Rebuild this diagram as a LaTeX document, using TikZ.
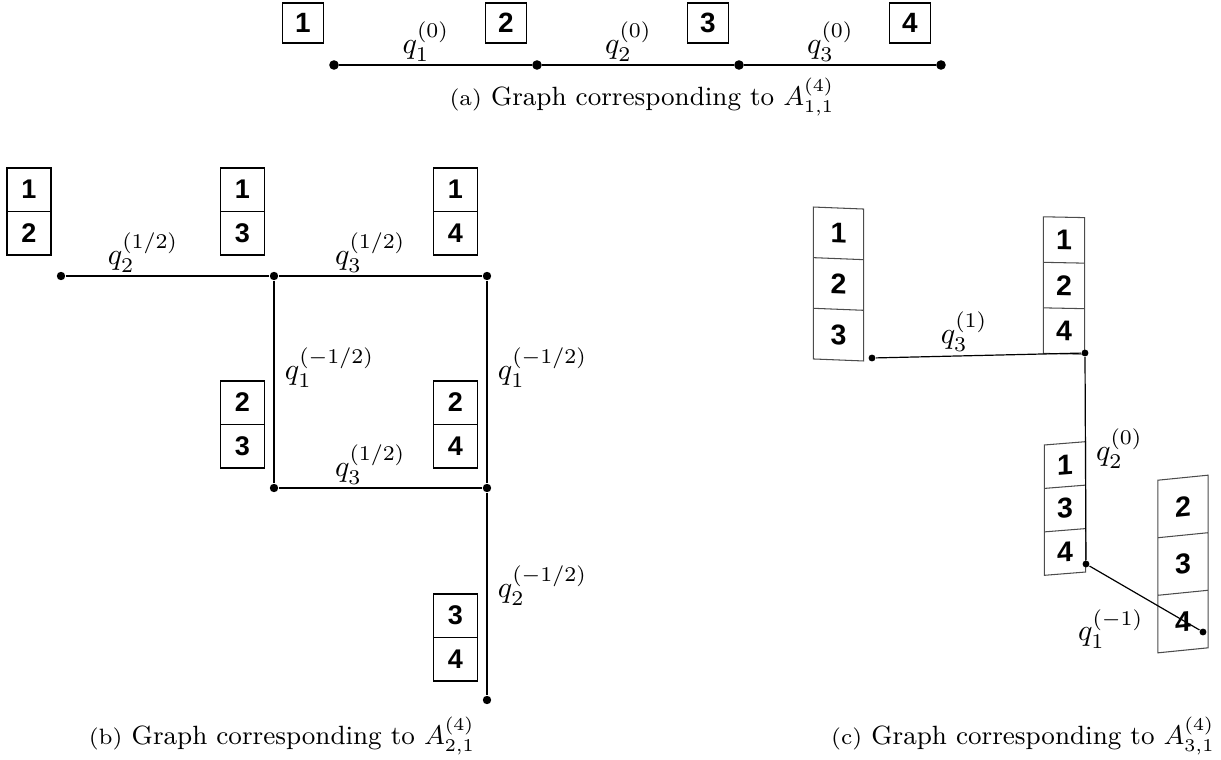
\documentclass[tikz,border=0pt]{standalone}
\usepackage{fontspec}
\newfontfamily\digitfont{Liberation Sans}
\usetikzlibrary{shapes.multipart}

\newcommand{\dg}[1]{\vphantom{0}#1}
\newcommand{\sublabel}[1]{{\fontsize{7.4}{9}\selectfont #1}}

\begin{document}
\begin{tikzpicture}[
    x=0.3333pt, y=-0.3333pt,
    dot/.style={circle, fill, inner sep=0pt, minimum size=3.2pt},
    midot/.style={circle, fill, inner sep=0pt, minimum size=2.8pt},
    smalldot/.style={circle, fill, inner sep=0pt, minimum size=2.3pt},
    link/.style={semithick},
    thinlink/.style={thin},
    numbox/.style={draw, semithick, inner xsep=0pt, inner ysep=3.4pt,
                   minimum width=13.7pt,
                   font=\digitfont\bfseries\fontsize{9.3}{11}\selectfont},
    tower/.style={rectangle split, rectangle split parts=#1, draw, semithick,
                  inner xsep=0pt, inner ysep=3.8pt, minimum width=14.7pt,
                  font=\digitfont\bfseries\fontsize{9}{11}\selectfont},
    slimtower/.style={rectangle split, rectangle split parts=3, draw=black!70,
                  line width=0.35pt, inner xsep=0pt,
                  font=\digitfont\bfseries\fontsize{9.5}{11}\selectfont},
    caption/.style={font=\fontsize{8.8}{10.5}\selectfont}
  ]
    \useasboundingbox (0,0) rectangle (1221,760);

    % (a) path graph
    \node[numbox] (n1) at (303,23) {\dg1};
    \node[numbox] (n2) at (506,23) {\dg2};
    \node[numbox] (n3) at (708,23) {\dg3};
    \node[numbox] (n4) at (910,23) {\dg4};
    \node[dot] (a1) at (334,65) {};
    \node[dot] (a2) at (537,65) {};
    \node[dot] (a3) at (739,65) {};
    \node[dot] (a4) at (941,65) {};
    \draw[link] (a1) -- node[above=-2.3pt, pos=0.45] {$q_1^{(0)}$} (a2);
    \draw[link] (a2) -- node[above=-2.3pt, pos=0.45] {$q_2^{(0)}$} (a3);
    \draw[link] (a3) -- node[above=-2.3pt, pos=0.45] {$q_3^{(0)}$} (a4);
    \node[caption] (capa) at (642,97)
      {\sublabel{(a)} Graph corresponding to $A^{(4)}_{1,1}$};

    % (b) square with two tails
    \node[tower=2] (t12) at (29,211.5)  {\dg1\nodepart{two}\dg2};
    \node[tower=2] (t13) at (242.5,211.5) {\dg1\nodepart{two}\dg3};
    \node[tower=2] (t14) at (455.5,211.5) {\dg1\nodepart{two}\dg4};
    \node[tower=2] (t23) at (242.5,424.5) {\dg2\nodepart{two}\dg3};
    \node[tower=2] (t24) at (455.5,424.5) {\dg2\nodepart{two}\dg4};
    \node[tower=2] (t34) at (455.5,637.5) {\dg3\nodepart{two}\dg4};
    \node[midot] (b1) at (61,276) {};
    \node[midot] (b2) at (274,276) {};
    \node[midot] (b3) at (487,276) {};
    \node[midot] (b4) at (274,488) {};
    \node[midot] (b5) at (487,488) {};
    \node[midot] (b6) at (487,700) {};
    \draw[link] (b1) -- node[above=-2.3pt, pos=0.38] {$q_2^{(1/2)}$} (b2);
    \draw[link] (b2) -- node[above=-2.3pt, pos=0.45] {$q_3^{(1/2)}$} (b3);
    \draw[link] (b2) -- node[right, pos=0.43] {$q_1^{(-1/2)}$} (b4);
    \draw[link] (b3) -- node[right, pos=0.43] {$q_1^{(-1/2)}$} (b5);
    \draw[link] (b4) -- node[above=-2.3pt, pos=0.45] {$q_3^{(1/2)}$} (b5);
    \draw[link] (b5) -- node[right, pos=0.46] {$q_2^{(-1/2)}$} (b6);
    \node[caption] (capb) at (282,736)
      {\sublabel{(b)} Graph corresponding to $A^{(4)}_{2,1}$};

    % (c) hand-drawn looking towers
    \node[slimtower, minimum width=16.7pt, inner ysep=4.9pt, yslant=-0.04]
      (s123) at (838.5,284) {\dg1\nodepart{two}\dg2\nodepart{three}\dg3};
    \node[slimtower, minimum width=13.7pt, inner ysep=4.05pt, yslant=-0.02]
      (s124) at (1064,285.5) {\dg1\nodepart{two}\dg2\nodepart{three}\dg4};
    \node[slimtower, minimum width=13.7pt, inner ysep=3.7pt, yslant=0.08]
      (s134) at (1065,508.5) {\dg1\nodepart{two}\dg3\nodepart{three}\dg4};
    \node[slimtower, minimum width=16.7pt, inner ysep=6.05pt, yslant=0.1]
      (s234) at (1183,564) {\dg2\nodepart{two}\dg3\nodepart{three}\dg4};
    \node[smalldot] (c1) at (872,358) {};
    \node[smalldot] (c2) at (1085,353) {};
    \node[smalldot] (c3) at (1086,564) {};
    \node[smalldot] (c4) at (1203,632) {};
    \draw[thinlink] (c1) -- node[above=-2pt, pos=0.43] {$q_3^{(1)}$} (c2);
    \draw[thinlink] (c2) -- node[right, pos=0.45] {$q_2^{(0)}$} (c3);
    \draw[thinlink] (c3) -- node[below left=-1pt, pos=0.56] {$q_1^{(-1)}$} (c4);
    \node[caption] (capc) at (1023,736)
      {\sublabel{(c)} Graph corresponding to $A^{(4)}_{3,1}$};
\end{tikzpicture}
\end{document}
